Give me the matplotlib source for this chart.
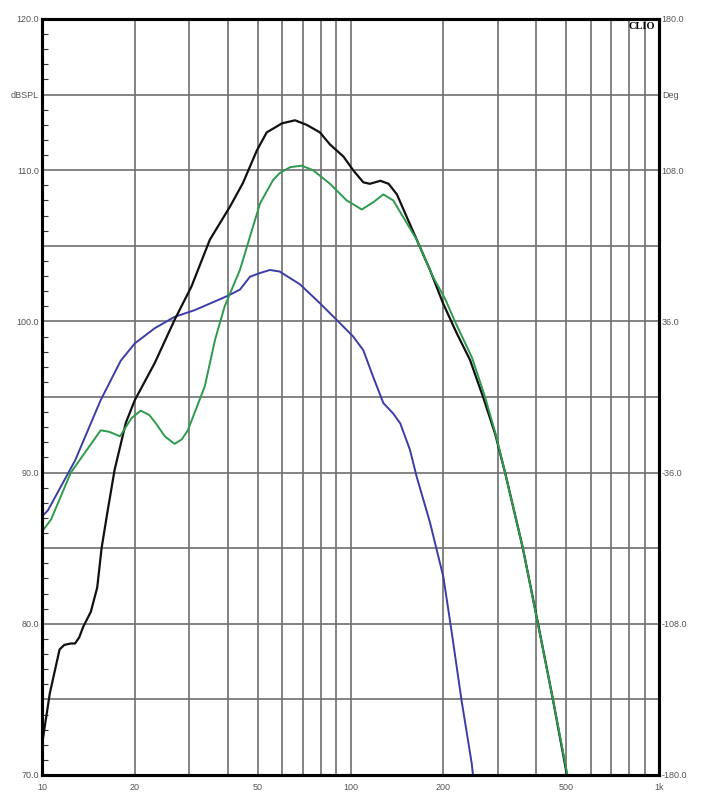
import matplotlib.pyplot as plt
from matplotlib.ticker import FixedLocator, NullFormatter

# frequency response readings (Hz, dBSPL)
black_f = [10.0, 10.6, 11.4, 11.8, 12.4, 12.8, 13.2, 13.6, 14.4, 15.1, 15.6, 16.3, 17.2, 18.7, 20.0, 23.2, 26.9,
           30.5, 35.0, 40.7, 44.8, 49.7, 53.5, 60.0, 66.1, 72.1, 79.6, 85.8, 94.9, 102, 110, 115.5,
           125, 132.9, 141.4, 152.2, 164, 181, 199.5, 220, 244, 269, 294, 317, 362, 405, 453, 503]
black_db = [72.0, 75.4, 78.3, 78.6, 78.7, 78.7, 79.1, 79.8, 80.8, 82.4, 85.0, 87.4, 90.2, 93.3, 94.8, 97.25, 100.1,
            102.3, 105.4, 107.6, 109.15, 111.3, 112.5, 113.1, 113.3, 113.0, 112.5, 111.7, 110.9, 110.0, 109.2, 109.1,
            109.3, 109.1, 108.4, 106.9, 105.4, 103.4, 101.2, 99.3, 97.45, 95.0, 92.6, 90.0, 85.0, 80.05, 75.0, 70.0]

green_f = [10.0, 10.7, 12.4, 15.5, 16.5, 17.9, 19.5, 20.9, 22.3, 23.5, 25.0, 26.9, 28.4, 29.7, 33.7, 36.4, 39.1,
           43.8, 46.1, 50.9, 56.1, 58.9, 63.7, 69.5, 75.6, 85.8, 97.2, 108.8, 118.9, 127.8, 137.6, 150.2,
           164, 185, 202.5, 218, 247.7, 273, 295, 317, 362, 405, 453, 505]
green_db = [86.1, 86.9, 90.0, 92.8, 92.7, 92.4, 93.6, 94.1, 93.8, 93.2, 92.4, 91.9, 92.2, 92.8, 95.7, 98.8, 101.0,
            103.4, 104.9, 107.8, 109.35, 109.8, 110.2, 110.3, 110.0, 109.1, 108.0, 107.4, 107.9, 108.4, 108.0, 106.7,
            105.4, 102.95, 101.5, 100.0, 97.6, 95.0, 92.6, 90.0, 85.0, 80.0, 75.0, 70.0]

blue_f = [10.0, 10.45, 12.8, 15.5, 18.0, 20.0, 23.2, 26.9, 31.3, 40.1, 43.8, 47.2, 50.9, 54.8,
          58.9, 68.6, 79.6, 90.2, 102, 110, 118.6, 127.8, 137.6, 145, 155.9, 164, 181, 200, 213,
          229, 247, 249.5]
blue_db = [87.1, 87.5, 90.8, 94.8, 97.4, 98.55, 99.55, 100.3, 100.75, 101.7, 102.1, 102.95, 103.2, 103.4,
           103.3, 102.45, 101.2, 100.1, 99.0, 98.1, 96.3, 94.6, 93.9, 93.25, 91.5, 89.7, 86.7, 83.1, 79.4,
           74.95, 70.8, 70.0]

x_ticks = [10, 20, 50, 100, 200, 500, 1000]
x_labels = ['10', '20', '50', '100', '200', '500', '1k']
y_ticks = [70, 75, 80, 85, 90, 95, 100, 105, 110, 115, 120]
y_labels = ['70.0', '', '80.0', '', '90.0', '', '100.0', '', '110.0', 'dBSPL', '120.0']
deg_ticks = [-180, -108, -36, 36, 108, 144, 180]
deg_labels = ['-180.0', '-108.0', '-36.0', '36.0', '108.0', 'Deg', '180.0']

plt.rcParams['font.family'] = ['Liberation Sans', 'DejaVu Sans']
label_color = '#555555'
grid_color = '#6e6e6e'

fig = plt.figure(figsize=(7.05, 8.0), dpi=100)
ax = fig.add_axes([42 / 705, 25 / 800, 617 / 705, 756 / 800])

ax.plot(blue_f, blue_db, color='#3c3ca8', lw=1.4, zorder=3)
ax.plot(black_f, black_db, color='#111111', lw=1.6, zorder=4)
ax.plot(green_f, green_db, color='#2e9a4c', lw=1.4, zorder=5)

ax.set_xscale('log')
ax.set_xlim(10, 1000)
ax.set_ylim(70, 120)

# x grid: every 10, 20...100, 200...1000
grid_x = [d * m for d in (10, 100) for m in range(1, 10)] + [1000]
ax.xaxis.set_major_locator(FixedLocator(x_ticks))
ax.set_xticklabels(x_labels)
ax.xaxis.set_minor_locator(FixedLocator(grid_x))
ax.xaxis.set_minor_formatter(NullFormatter())
ax.grid(True, which='both', axis='x', color=grid_color, lw=1.2)

ax.set_yticks(y_ticks)
ax.set_yticklabels(y_labels)
ax.yaxis.set_minor_locator(FixedLocator([v for v in range(70, 121) if v % 5]))
ax.grid(True, which='major', axis='y', color=grid_color, lw=1.2)

ax.tick_params(axis='x', which='both', length=0, labelsize=6.5, labelcolor=label_color, pad=6)
ax.tick_params(axis='y', which='major', length=0, labelsize=6.5, labelcolor=label_color, pad=2)
ax.tick_params(axis='y', which='minor', direction='in', length=4, width=0.8,
               left=True, right=True, color='#333333')

ax2 = ax.twinx()
ax2.set_ylim(-180, 180)
ax2.set_yticks(deg_ticks)
ax2.set_yticklabels(deg_labels)
ax2.tick_params(axis='y', length=0, labelsize=6.5, labelcolor=label_color, pad=2)

for a in (ax, ax2):
    for s in a.spines.values():
        s.set_color('black')
        s.set_linewidth(2.2)

ax.text(0.993, 0.996, 'CLIO', transform=ax.transAxes, ha='right', va='top',
        fontsize=7.5, fontweight='bold', family='Liberation Serif', color='black', zorder=6)

fig.savefig('out.png', dpi=100, facecolor='white')
